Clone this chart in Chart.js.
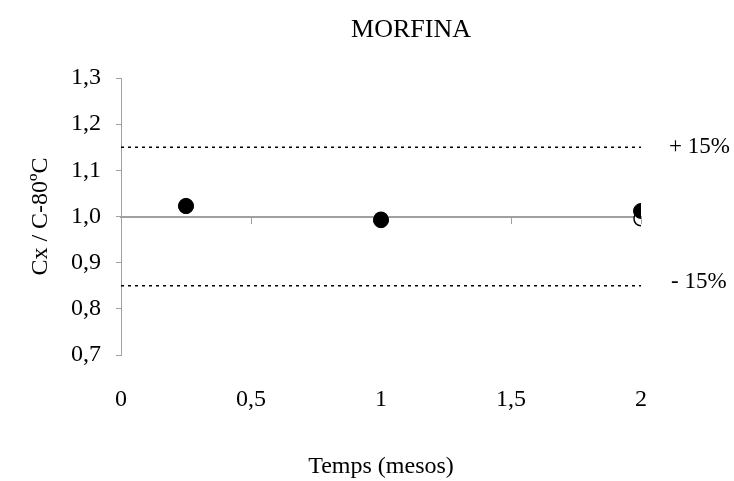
<!DOCTYPE html>
<html>
<head>
<meta charset="utf-8">
<script src="https://cdn.jsdelivr.net/npm/chart.js@4/dist/chart.umd.min.js"></script>
<style>
  body { margin: 0; background: #fff; }
</style>
</head>
<body>
<canvas id="morfinaChart" width="734" height="481"></canvas>
<script>
const titol = 'MORFINA';
const tempsMesos = [0.25, 1, 2];
const serieFosca = [1.023, 0.992, 1.012];
const serieBlanca = [1.022, 0.994, 0.995];
const limitSuperior = 1.15;
const limitInferior = 0.85;
const etiquetesLimit = ['+ 15%', '- 15%'];

const gris = '#a0a0a0';
const font = 'Liberation Serif';

// title and the +/-15% labels
const textos = {
    id: 'textos',
    afterDraw(chart) {
        const ctx = chart.ctx;
        const y = chart.scales.y;
        const area = chart.chartArea;
        ctx.save();
        ctx.fillStyle = '#000';
        ctx.font = '23px "' + font + '"';
        ctx.textBaseline = 'middle';
        ctx.textAlign = 'left';
        ctx.fillText(etiquetesLimit[0], area.right + 28, y.getPixelForValue(limitSuperior));
        ctx.fillText(etiquetesLimit[1], area.right + 30, y.getPixelForValue(limitInferior) - 4);
        ctx.font = '26px "' + font + '"';
        ctx.textAlign = 'center';
        ctx.fillText(titol, 411, 30);
        ctx.restore();
    }
};

const ctx = document.getElementById('morfinaChart');

window.myChart = new Chart(ctx, {
    type: 'scatter',
    data: {
        datasets: [
            {
                label: 'C fosca',
                data: tempsMesos.map((t, i) => ({ x: t, y: serieFosca[i] })),
                pointRadius: 7.5,
                pointBackgroundColor: '#000',
                pointBorderColor: '#000',
                pointBorderWidth: 1,
                order: 0
            },
            {
                label: 'C blanca',
                data: tempsMesos.map((t, i) => ({ x: t, y: serieBlanca[i] })),
                pointRadius: 7,
                pointBackgroundColor: '#fff',
                pointBorderColor: '#000',
                pointBorderWidth: 1.5,
                order: 1
            },
            {
                label: '+15%',
                type: 'line',
                data: [{ x: 0, y: limitSuperior }, { x: 2, y: limitSuperior }],
                borderColor: '#000',
                borderWidth: 1.5,
                borderDash: [3, 4],
                pointRadius: 0,
                order: 2
            },
            {
                label: '-15%',
                type: 'line',
                data: [{ x: 0, y: limitInferior }, { x: 2, y: limitInferior }],
                borderColor: '#000',
                borderWidth: 1.5,
                borderDash: [3, 4],
                pointRadius: 0,
                order: 2
            }
        ]
    },
    options: {
        responsive: false,
        animation: false,
        layout: { padding: { top: 78, right: 93, left: 0, bottom: 0 } },
        plugins: {
            legend: { display: false },
            tooltip: { enabled: false }
        },
        scales: {
            x: {
                type: 'linear',
                position: 'bottom',
                min: 0,
                max: 2,
                border: { display: false },
                grid: { display: false },
                ticks: {
                    stepSize: 0.5,
                    padding: 22,
                    color: '#000',
                    font: { family: font, size: 24 },
                    callback: v => String(v).replace('.', ',')
                },
                title: {
                    display: true,
                    text: 'Temps (mesos)',
                    color: '#000',
                    font: { family: font, size: 24 },
                    padding: { top: 0, bottom: 0 }
                },
                afterFit: s => { s.height = 126; }
            },
            x2: {
                type: 'linear',
                axis: 'x',
                position: { y: 1 },
                min: 0,
                max: 2,
                border: { color: gris, width: 2 },
                grid: { drawOnChartArea: false, drawTicks: true, tickLength: 6, color: gris, lineWidth: 1 },
                ticks: { display: false, stepSize: 0.5 }
            },
            y: {
                min: 0.7,
                max: 1.3,
                border: { color: gris, width: 1 },
                grid: { drawOnChartArea: false, drawTicks: true, tickLength: 5, color: gris },
                ticks: {
                    stepSize: 0.1,
                    padding: 15,
                    color: '#000',
                    font: { family: font, size: 24 },
                    callback: v => v.toFixed(1).replace('.', ',')
                },
                title: {
                    display: true,
                    text: 'Cx / C-80ºC',
                    color: '#000',
                    font: { family: font, size: 24 },
                    padding: { top: 26, bottom: 0 }
                },
                afterFit: s => { s.width = 121; }
            }
        }
    },
    plugins: [textos]
});
</script>
</body>
</html>
